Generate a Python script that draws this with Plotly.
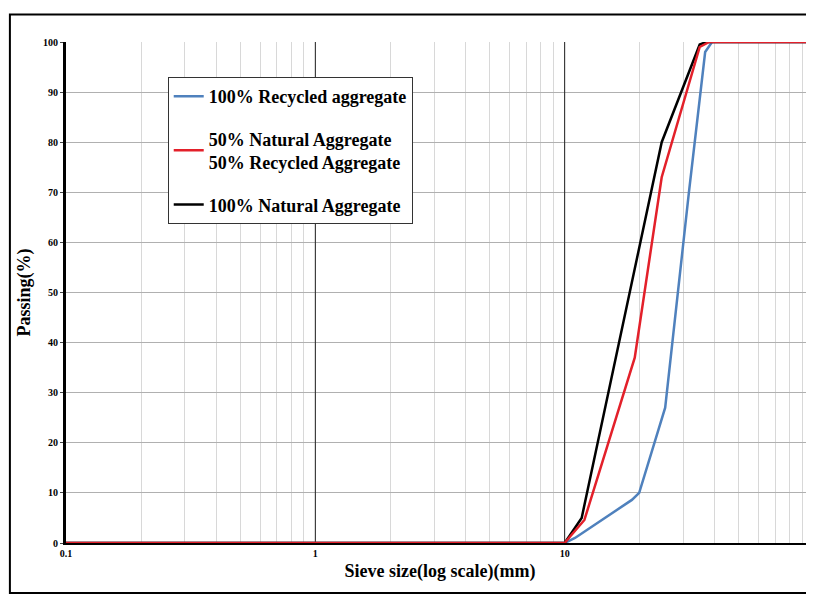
import plotly.graph_objects as go

# sieve size (mm) and passing (%)
rec_x = [0.1, 10, 11, 18.6, 19.9, 25.3, 31.5, 36.6, 39, 100]
rec_y = [0, 0, 1, 8.6, 10, 27, 70, 98, 100, 100]
mix_x = [0.1, 10, 10.6, 12, 19.1, 24.5, 34.8, 38, 100]
mix_y = [0, 0, 1.5, 4.6, 37, 73, 99, 100, 100]
nat_x = [0.1, 10, 11.7, 18.6, 24.5, 34.8, 37, 100]
nat_y = [0, 0, 5, 52.5, 80, 99.5, 100, 100]

x_ticks = [0.1, 1, 10, 100]
x_labels = ["0.1", "1", "10", "10"]

fig = go.Figure()
fig.add_trace(go.Scatter(x=rec_x, y=rec_y, mode="lines", name="100% Recycled aggregate",
                         line=dict(color="#4f81bd", width=2.5), legendrank=1, legendgroup="a"))
fig.add_trace(go.Scatter(x=nat_x, y=nat_y, mode="lines", name="100% Natural Aggregate",
                         line=dict(color="black", width=2.5), legendrank=3, legendgroup="c"))
fig.add_trace(go.Scatter(x=mix_x, y=mix_y, mode="lines",
                         name="50% Natural Aggregate<br>50% Recycled Aggregate",
                         line=dict(color="#e3202a", width=2.5), legendrank=2, legendgroup="b"))

# decade lines darker than minor grid
for d in [1, 10]:
    fig.add_shape(type="line", x0=d, x1=d, y0=0, y1=100, xref="x", yref="y",
                  line=dict(color="#222", width=1), layer="between")
fig.add_shape(type="rect", xref="paper", yref="paper", x0=-0.075, x1=1.0, y0=-0.1, y1=1.055,
              line=dict(color="black", width=2))

fig.update_layout(
    width=806, height=593, paper_bgcolor="white", plot_bgcolor="white",
    margin=dict(l=58, r=0, t=34, b=58, autoexpand=False),
    font=dict(family="Liberation Serif", color="black"),
    legend=dict(x=0.136, y=0.93, xanchor="left", yanchor="top", traceorder="grouped",
                bordercolor="#333", borderwidth=1, bgcolor="white",
                font=dict(size=18, family="Liberation Serif", weight="bold"), tracegroupgap=16),
)

fig.update_xaxes(type="log", range=[-1, 2], tickvals=x_ticks, ticktext=x_labels, automargin=False,
                 showgrid=True, gridcolor="#ccc",
                 minor=dict(showgrid=True, gridcolor="#d8d8d8", tickvals=[a * b for b in [0.1, 1, 10] for a in range(2, 10)]),
                 showline=True, linecolor="black", linewidth=2,
                 tickfont=dict(size=10, weight="bold"),
                 title=dict(text="Sieve size(log scale)(mm)", font=dict(size=18, weight="bold"), standoff=6))
fig.update_yaxes(range=[0, 100], dtick=10, showgrid=True, gridcolor="#b0b0b0", automargin=False,
                 showline=True, linecolor="black", linewidth=3, ticks="outside", ticklen=3,
                 tickfont=dict(size=10, weight="bold"), zeroline=False,
                 title=dict(text="Passing(%)", font=dict(size=18, weight="bold"), standoff=8))

fig.write_html("out.html")
